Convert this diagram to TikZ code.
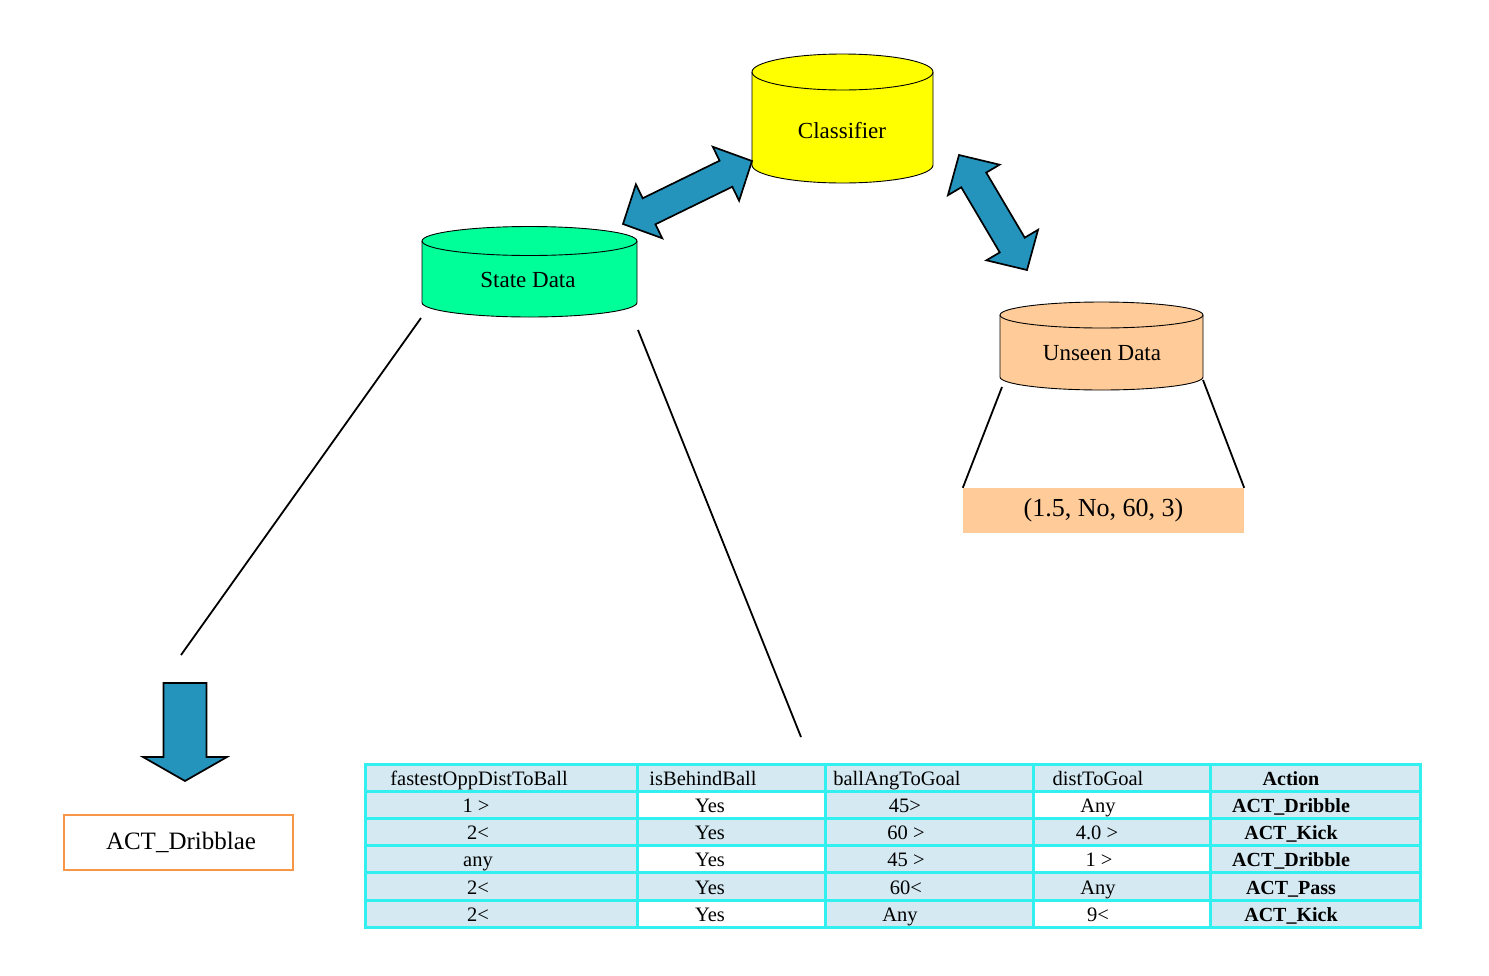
\documentclass[tikz,border=0pt]{standalone}
\usepackage{fontspec}
\setmainfont{Liberation Serif}
\usetikzlibrary{calc}
\definecolor{cylyellow}{RGB}{255,255,0}
\definecolor{cylgreen}{RGB}{0,255,153}
\definecolor{peach}{RGB}{255,204,153}
\definecolor{arrowblue}{RGB}{36,148,188}
\definecolor{tblbg}{RGB}{212,233,241}
\definecolor{tblline}{RGB}{51,240,240}
\definecolor{actorange}{RGB}{247,150,70}
\newcommand\fatarrow[2]{%
  \filldraw[fatarrowstyle] (#1)
    -- ($(#1)!29pt!(#2)!30pt!90:(#2)$)
    -- ($(#1)!29pt!(#2)!14.5pt!90:(#2)$)
    -- ($(#2)!29pt!(#1)!14.5pt!-90:(#1)$)
    -- ($(#2)!29pt!(#1)!30pt!-90:(#1)$)
    -- (#2)
    -- ($(#2)!29pt!(#1)!30pt!90:(#1)$)
    -- ($(#2)!29pt!(#1)!14.5pt!90:(#1)$)
    -- ($(#1)!29pt!(#2)!14.5pt!-90:(#2)$)
    -- ($(#1)!29pt!(#2)!30pt!-90:(#2)$)
    -- cycle;}
\begin{document}
\begin{tikzpicture}[x=1pt,y=-1pt,
  cylbody/.style={draw=black, line width=0.9pt},
  cyllabel/.style={font=\fontsize{23}{27}\selectfont, inner sep=0pt},
  connector/.style={draw=black, line width=1.8pt},
  fatarrowstyle/.style={fill=arrowblue, draw=black, line width=1.7pt, line join=miter},
  cell/.style={font=\fontsize{20.5}{24}\selectfont, anchor=base, inner sep=0pt},
  boldcell/.style={cell, font=\fontsize{20}{24}\selectfont\bfseries},
]
\useasboundingbox (0,0) rectangle (1489,975);

% ---------- Classifier cylinder ----------
\filldraw[cylbody, fill=cylyellow] (752,72) -- (752,165)
  arc[start angle=180, end angle=360, x radius=90.5pt, y radius=18pt]
  -- (933,72) arc[start angle=0, end angle=180, x radius=90.5pt, y radius=18pt] -- cycle;
\draw[cylbody] (752,72) arc[start angle=180, end angle=360, x radius=90.5pt, y radius=18pt];
\node[cyllabel] (classifier) at (842,131) {Classifier};

% ---------- State Data cylinder ----------
\filldraw[cylbody, fill=cylgreen] (422,241) -- (422,302.5)
  arc[start angle=180, end angle=360, x radius=107.5pt, y radius=14.5pt]
  -- (637,241) arc[start angle=0, end angle=180, x radius=107.5pt, y radius=14.5pt] -- cycle;
\draw[cylbody] (422,241) arc[start angle=180, end angle=360, x radius=107.5pt, y radius=14.5pt];
\node[cyllabel] (statedata) at (528,280) {State Data};

% ---------- Unseen Data cylinder ----------
\filldraw[cylbody, fill=peach] (1000,315) -- (1000,377)
  arc[start angle=180, end angle=360, x radius=101.5pt, y radius=13pt]
  -- (1203,315) arc[start angle=0, end angle=180, x radius=101.5pt, y radius=13pt] -- cycle;
\draw[cylbody] (1000,315) arc[start angle=180, end angle=360, x radius=101.5pt, y radius=13pt];
\node[cyllabel] (unseen) at (1102,353) {Unseen Data};

% ---------- double arrows ----------
\coordinate (laA) at (623,224);
\coordinate (laB) at (752,161);
\coordinate (raA) at (959,155);
\coordinate (raB) at (1027,270);
\fatarrow{laA}{laB}
\fatarrow{raA}{raB}

% ---------- unseen data expansion ----------
\node[fill=peach, minimum width=281pt, minimum height=45pt, inner sep=0pt,
      font=\fontsize{26}{30}\selectfont] (vec) at (1103.5,510.5) {(1.5, No, 60, 3)};
\coordinate (unL) at (1002,387);
\coordinate (unR) at (1203,380);
\draw[connector] (unL) -- (vec.north west);
\draw[connector] (unR) -- (vec.north east);

% ---------- state data expansion lines ----------
\coordinate (sdL) at (421,318);
\coordinate (sdLend) at (181,655);
\coordinate (sdR) at (638,330);
\coordinate (sdRend) at (801,737);
\draw[connector] (sdL) -- (sdLend);
\draw[connector] (sdR) -- (sdRend);

% ---------- down arrow and result ----------
\filldraw[fatarrowstyle] (163.5,683) -- (206.5,683) -- (206.5,757) -- (227,757)
  -- (185,781) -- (143,757) -- (163.5,757) -- cycle;
\node[draw=actorange, line width=2pt, minimum width=229pt, minimum height=55pt,
      inner sep=0pt, font=\fontsize{25}{30}\selectfont] (act) at (178,842) {\hspace*{6pt}ACT\_Dribblae};

% ---------- table ----------
\fill[tblbg] (365,764) rectangle (1420,927.2);
\fill[white] (637,791.2) rectangle (825,818.4);
\fill[white] (637,845.6) rectangle (825,872.8);
\fill[white] (637,900) rectangle (825,927.2);
\fill[white] (1033,791.2) rectangle (1210,818.4);
\fill[white] (1033,845.6) rectangle (1210,872.8);
\fill[white] (1033,900) rectangle (1210,927.2);
\draw[tblline, line width=3pt] (365,764) rectangle (1420,927.2);
\foreach \yy in {791.2,818.4,845.6,872.8,900}
  \draw[tblline, line width=3pt] (365,\yy) -- (1420,\yy);
\foreach \xx in {637,825,1033,1210}
  \draw[tblline, line width=3pt] (\xx,764) -- (\xx,927.2);

% header
\node[cell] (h1) at (479,785.2) {fastestOppDistToBall};
\node[cell] (h2) at (703,785.2) {isBehindBall};
\node[cell] (h3) at (897,785.2) {ballAngToGoal};
\node[cell] (h4) at (1098,785.2) {distToGoal};
\node[boldcell] (h5) at (1291,785.2) {Action};
% row 1
\node[cell] (r1c1) at (476,812.4) {1 >};
\node[cell] (r1c2) at (710,812.4) {Yes};
\node[cell] (r1c3) at (905,812.4) {45>};
\node[cell] (r1c4) at (1098,812.4) {Any};
\node[boldcell] (r1c5) at (1291,812.4) {ACT\_Dribble};
% row 2
\node[cell] (r2c1) at (478,839.6) {2<};
\node[cell] (r2c2) at (710,839.6) {Yes};
\node[cell] (r2c3) at (906,839.6) {60 >};
\node[cell] (r2c4) at (1097,839.6) {4.0 >};
\node[boldcell] (r2c5) at (1291,839.6) {ACT\_Kick};
% row 3
\node[cell] (r3c1) at (478,866.8) {any};
\node[cell] (r3c2) at (710,866.8) {Yes};
\node[cell] (r3c3) at (906,866.8) {45 >};
\node[cell] (r3c4) at (1099,866.8) {1 >};
\node[boldcell] (r3c5) at (1291,866.8) {ACT\_Dribble};
% row 4
\node[cell] (r4c1) at (478,894) {2<};
\node[cell] (r4c2) at (710,894) {Yes};
\node[cell] (r4c3) at (906,894) {60<};
\node[cell] (r4c4) at (1098,894) {Any};
\node[boldcell] (r4c5) at (1291,894) {ACT\_Pass};
% row 5
\node[cell] (r5c1) at (478,921.2) {2<};
\node[cell] (r5c2) at (710,921.2) {Yes};
\node[cell] (r5c3) at (900,921.2) {Any};
\node[cell] (r5c4) at (1098,921.2) {9<};
\node[boldcell] (r5c5) at (1291,921.2) {ACT\_Kick};
\end{tikzpicture}
\end{document}
